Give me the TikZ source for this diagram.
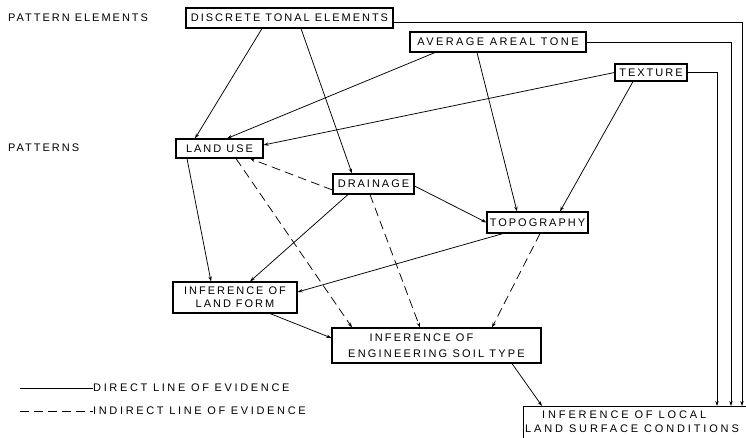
\documentclass[tikz,border=0pt]{standalone}
\usepackage{fontspec}
\setmainfont{Liberation Sans}[LetterSpace=18]
\usetikzlibrary{arrows.meta}
\begin{document}
\begin{tikzpicture}[x=1pt,y=-1pt,
  font=\fontsize{11}{14}\selectfont,
  box/.style={draw, line width=1.1pt, inner sep=0pt, align=center},
  arr/.style={line width=0.75pt, -{Stealth[length=5pt,width=3.4pt]}},
  ind/.style={arr, dash pattern=on 9pt off 5pt},
  lbl/.style={anchor=west, inner sep=0pt}]
\useasboundingbox (0,0) rectangle (746,438);
\clip (0,0) rectangle (746,438);

% level labels
\node[lbl] (pe) at (8,18) {PATTERN ELEMENTS};
\node[lbl] (pa) at (8,148) {PATTERNS};

% boxes
\node[box, minimum width=207pt, minimum height=20pt] (discrete) at (289.5,18) {DISCRETE TONAL ELEMENTS};
\node[box, minimum width=176pt, minimum height=20pt] (avg) at (498,42) {\addfontfeature{LetterSpace=22}AVERAGE AREAL TONE};
\node[box, minimum width=72pt, minimum height=17pt] (texture) at (651,72.5) {TEXTURE};
\node[box, minimum width=87pt, minimum height=19pt] (landuse) at (219.5,148.5) {LAND USE};
\node[box, minimum width=81pt, minimum height=20pt] (drainage) at (373.5,184) {DRAINAGE};
\node[box, minimum width=101pt, minimum height=21pt] (topo) at (537.5,222.5) {TOPOGRAPHY};
\node[box, minimum width=124pt, minimum height=31pt, font=\fontsize{11}{13}\selectfont] (landform) at (235,297.5) {INFERENCE OF\\LAND FORM};
\node[box, minimum width=209pt, minimum height=35pt, font=\fontsize{11}{16}\selectfont\addfontfeature{LetterSpace=20}] (engsoil) at (436.5,345.5) {INFERENCE OF\hspace*{30pt}\\ENGINEERING SOIL TYPE};
\node[box, anchor=north west, minimum width=240pt, minimum height=40pt] (local) at (523,406) {};
\node[anchor=north west, inner sep=0pt, align=left,
  font=\fontsize{11}{14.5}\selectfont\addfontfeature{LetterSpace=26}] (localtxt) at ([xshift=2pt,yshift=-4.5pt]local.north west)
  {\hspace*{17pt}INFERENCE OF LOCAL\\LAND SURFACE CONDITIONS};

% direct lines
\draw[arr] ([xshift=-27.5pt]discrete.south) -- ([xshift=-24.5pt]landuse.north);
\draw[arr] ([xshift=11.5pt]discrete.south) -- ([xshift=-21.5pt]drainage.north);
\draw[arr] ([xshift=-63pt]avg.south) -- ([xshift=7.5pt]landuse.north);
\draw[arr] ([xshift=-21pt]avg.south) -- ([xshift=-20.5pt]topo.north);
\draw[arr] (texture.west) -- ([yshift=3.5pt]landuse.east);
\draw[arr] ([xshift=-18pt]texture.south) -- ([xshift=22.5pt]topo.north);
\draw[arr] ([yshift=-2pt]drainage.east) -- (topo.west);
\draw[arr] ([xshift=-32.5pt]landuse.south) -- ([xshift=-24pt]landform.north);
\draw[arr] ([xshift=-25.5pt]drainage.south) -- ([xshift=15pt]landform.north);
\draw[arr] ([xshift=-34.5pt]topo.south) -- ([yshift=5.5pt]landform.east);
\draw[arr] ([xshift=35pt]landform.south) -- ([yshift=7.5pt]engsoil.west);
\draw[arr] ([xshift=75.5pt]engsoil.south) -- ([xshift=19pt]local.north west);

% indirect lines
\draw[ind] ([yshift=-6pt]drainage.west) -- ([xshift=30.5pt]landuse.south);
\draw[ind] ([xshift=16.5pt]landuse.south) -- ([xshift=-84.5pt]engsoil.north);
\draw[ind] ([xshift=-3.5pt]drainage.south) -- ([xshift=-16.5pt]engsoil.north);
\draw[ind] ([xshift=2.5pt]topo.south) -- ([xshift=55.5pt]engsoil.north);

% lines to local land surface conditions
\coordinate (r1) at (742,406);
\coordinate (r2) at (731,406);
\coordinate (r3) at (717,406);
\draw[arr] ([yshift=-4pt]discrete.east) -| (r1);
\draw[arr] (avg.east) -| (r2);
\draw[arr] (texture.east) -| (r3);

% legend
\node[lbl, font=\fontsize{11}{14}\selectfont\addfontfeature{LetterSpace=24}] (l1) at (93,388) {DIRECT LINE OF EVIDENCE};
\node[lbl, font=\fontsize{11}{14}\selectfont\addfontfeature{LetterSpace=24}] (l2) at (93,411) {INDIRECT LINE OF EVIDENCE};
\coordinate (s1) at (20,388);
\coordinate (s2) at (20,411);
\draw[line width=0.75pt] (s1) -- (l1.west);
\draw[line width=0.75pt, dash pattern=on 9pt off 5pt] (s2) -- (l2.west);
\end{tikzpicture}
\end{document}
